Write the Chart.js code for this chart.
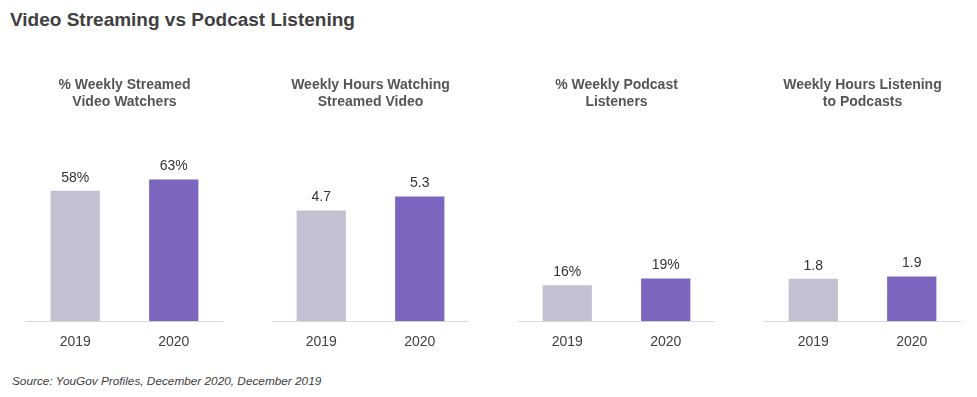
<!DOCTYPE html>
<html>
<head>
<meta charset="utf-8">
<script src="https://cdn.jsdelivr.net/npm/chart.js@4/dist/chart.umd.min.js"></script>
<style>
  html, body { margin: 0; padding: 0; background: #fff; }
  body { width: 977px; height: 397px; position: relative; overflow: hidden; font-family: "Liberation Sans", Arial, sans-serif; }
  #title { position: absolute; left: 10px; top: 9px; font-size: 19px; font-weight: bold; color: #404040; white-space: nowrap; }
  #source { position: absolute; left: 12px; top: 374px; font-size: 11.8px; font-style: italic; color: #404040; white-space: nowrap; }
  .panel { position: absolute; top: 67px; width: 197px; height: 297px; }
</style>
</head>
<body>
<div id="title">Video Streaming vs Podcast Listening</div>
<div class="panel" style="left:26px"><canvas id="c0"></canvas></div>
<div class="panel" style="left:272px"><canvas id="c1"></canvas></div>
<div class="panel" style="left:518px"><canvas id="c2"></canvas></div>
<div class="panel" style="left:764px"><canvas id="c3"></canvas></div>
<div id="source">Source: YouGov Profiles, December 2020, December 2019</div>
<script>
const years = ["2019", "2020"];
const panelTitles = [
  ["% Weekly Streamed", "Video Watchers"],
  ["Weekly Hours Watching", "Streamed Video"],
  ["% Weekly Podcast", "Listeners"],
  ["Weekly Hours Listening", "to Podcasts"]
];
const streamedVideoWatchersPct = [58, 63];
const streamedVideoHours = [4.7, 5.3];
const podcastListenersPct = [16, 19];
const podcastHours = [1.8, 1.9];
const valueSuffix = ["%", "", "%", ""];
const barColors = ["#c4c0d1", "#7c65bf"];

const panelData = [streamedVideoWatchersPct, streamedVideoHours, podcastListenersPct, podcastHours];
const axisMax = [89, 8.5, 89, 8.5];

const valueLabels = {
  id: "valueLabels",
  afterDatasetsDraw(chart, args, opts) {
    const ctx = chart.ctx;
    const meta = chart.getDatasetMeta(0);
    const ds = chart.data.datasets[0];
    ctx.save();
    ctx.font = "14px 'Liberation Sans', Arial, sans-serif";
    ctx.fillStyle = "#333333";
    ctx.textAlign = "center";
    ctx.textBaseline = "middle";
    meta.data.forEach((bar, i) => {
      ctx.fillText(ds.data[i] + opts.suffix, bar.x, bar.y - 13);
    });
    ctx.restore();
  }
};

panelData.forEach((vals, p) => {
  new Chart(document.getElementById("c" + p), {
    type: "bar",
    data: {
      labels: years,
      datasets: [{
        data: vals,
        backgroundColor: barColors,
        borderWidth: 0,
        barPercentage: 0.5,
        categoryPercentage: 1.0
      }]
    },
    options: {
      responsive: true,
      maintainAspectRatio: false,
      animation: false,
      events: [],
      layout: { padding: 0 },
      plugins: {
        legend: { display: false },
        tooltip: { enabled: false },
        valueLabels: { suffix: valueSuffix[p] },
        title: {
          display: true,
          text: panelTitles[p],
          color: "#555555",
          font: { family: "'Liberation Sans', Arial, sans-serif", size: 14, weight: "bold", lineHeight: 1.22 },
          padding: { top: 10, bottom: 10 }
        }
      },
      scales: {
        x: {
          grid: { display: false, drawTicks: false },
          border: { display: true, color: "#d9d9d9", width: 1 },
          ticks: { color: "#404040", font: { family: "'Liberation Sans', Arial, sans-serif", size: 14 }, padding: 13 }
        },
        y: { display: false, min: 0, max: axisMax[p] }
      }
    },
    plugins: [valueLabels]
  });
});
</script>
</body>
</html>
